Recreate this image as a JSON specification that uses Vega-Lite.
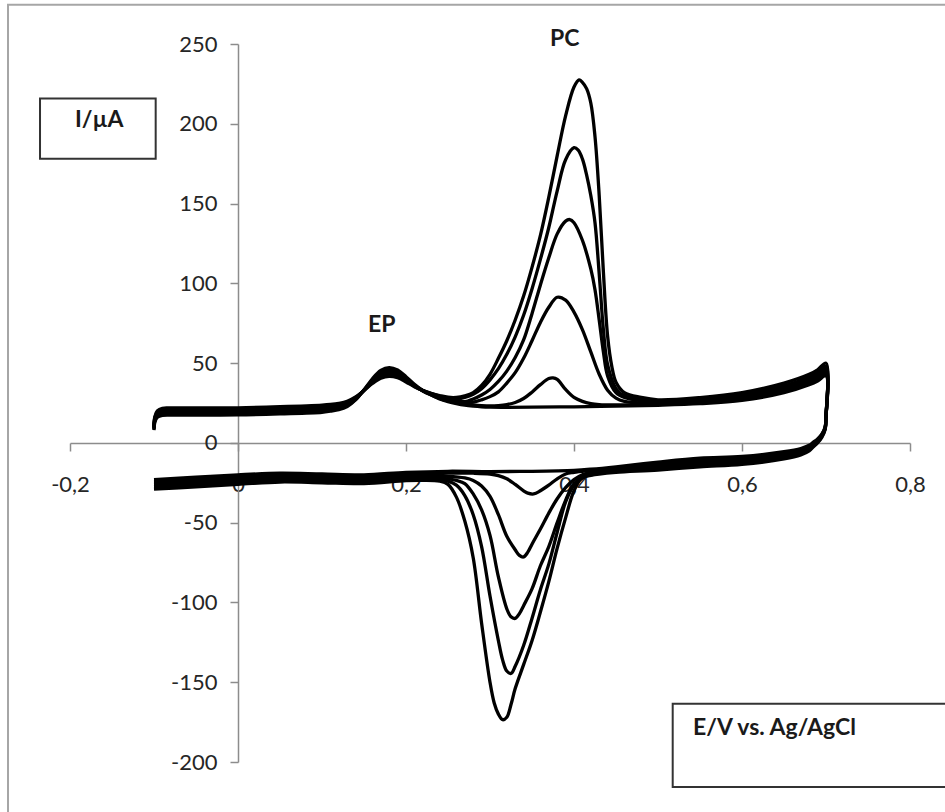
{
"$schema": "https://vega.github.io/schema/vega-lite/v6.json",
"width": 840, "height": 718,
"autosize": {"type": "none"},
"padding": {"left": 70, "top": 44, "right": 35, "bottom": 50},
"background": "white",
"config": {"view": {"stroke": null}},
"datasets": {
"frame": [{"x": -0.2738, "x2": 0.9, "y": 274.6, "y2": -260}],
"boxes": [{"x": -0.2357, "x2": -0.098, "y": 215.9, "y2": 178.1}, {"x": 0.5175, "x2": 0.86, "y": -163.5, "y2": -215.7}],
"txt": [{"x": 0.389, "y": 253.3, "t": "PC"}, {"x": 0.1711, "y": 73.6, "t": "EP"}, {"x": -0.1652, "y": 202.1, "t": "I/µA"}],
"axlab": [{"x": 0.5417, "y": -178.7, "t": "E/V vs. Ag/AgCl"}],
"cv": [
{"c":0,"x":-0.1,"y":8},{"c":0,"x":-0.099,"y":13},{"c":0,"x":-0.096,"y":16},{"c":0,"x":-0.09,"y":17.2},{"c":0,"x":-0.08,"y":17.4},{"c":0,"x":-0.04,"y":17.4},{"c":0,"x":0,"y":17.5},{"c":0,"x":0.05,"y":18.2},{"c":0,"x":0.1,"y":19.2},{"c":0,"x":0.11,"y":19.9},{"c":0,"x":0.12,"y":20.8},{"c":0,"x":0.13,"y":22.8},{"c":0,"x":0.14,"y":27},{"c":0,"x":0.15,"y":33.3},{"c":0,"x":0.16,"y":40.2},{"c":0,"x":0.17,"y":45.4},{"c":0,"x":0.18,"y":47.2},{"c":0,"x":0.19,"y":45.7},{"c":0,"x":0.2,"y":41.5},{"c":0,"x":0.21,"y":36.7},{"c":0,"x":0.22,"y":32.8},{"c":0,"x":0.23,"y":30},{"c":0,"x":0.24,"y":27.6},{"c":0,"x":0.25,"y":25.9},{"c":0,"x":0.26,"y":24.6},{"c":0,"x":0.27,"y":23.6},{"c":0,"x":0.28,"y":23},{"c":0,"x":0.29,"y":22.6},{"c":0,"x":0.3,"y":22.4},{"c":0,"x":0.32,"y":22.3},{"c":0,"x":0.35,"y":22.4},{"c":0,"x":0.4,"y":22.6},{"c":0,"x":0.45,"y":23},{"c":0,"x":0.5,"y":23.6},{"c":0,"x":0.55,"y":24.6},{"c":0,"x":0.6,"y":26.6},{"c":0,"x":0.65,"y":31.5},{"c":0,"x":0.68,"y":36.5},{"c":0,"x":0.69,"y":38.8},{"c":0,"x":0.7,"y":42},
{"c":0,"x":0.6998,"y":15},{"c":0,"x":0.699,"y":10},{"c":0,"x":0.695,"y":5.5},{"c":0,"x":0.69,"y":2.5},{"c":0,"x":0.685,"y":0.5},{"c":0,"x":0.68,"y":-1.5},{"c":0,"x":0.67,"y":-3.5},{"c":0,"x":0.65,"y":-5.5},{"c":0,"x":0.6,"y":-8.5},{"c":0,"x":0.55,"y":-9.5},{"c":0,"x":0.5,"y":-12},{"c":0,"x":0.45,"y":-15},{"c":0,"x":0.42,"y":-16.5},{"c":0,"x":0.4,"y":-17.2},{"c":0,"x":0.35,"y":-17.8},{"c":0,"x":0.3,"y":-18},{"c":0,"x":0.25,"y":-17.8},{"c":0,"x":0.2,"y":-18.5},{"c":0,"x":0.15,"y":-20},{"c":0,"x":0.1,"y":-19.5},{"c":0,"x":0.05,"y":-19},{"c":0,"x":0,"y":-20},{"c":0,"x":-0.05,"y":-21.5},{"c":0,"x":-0.1,"y":-23},

{"c":1,"x":-0.1,"y":8.5},{"c":1,"x":-0.099,"y":13.7},{"c":1,"x":-0.096,"y":16.8},{"c":1,"x":-0.09,"y":18.1},{"c":1,"x":-0.08,"y":18.3},{"c":1,"x":-0.04,"y":18.3},{"c":1,"x":0,"y":18.4},{"c":1,"x":0.05,"y":19.1},{"c":1,"x":0.1,"y":20.1},{"c":1,"x":0.11,"y":20.7},{"c":1,"x":0.12,"y":21.6},{"c":1,"x":0.13,"y":23.4},{"c":1,"x":0.14,"y":27.2},{"c":1,"x":0.15,"y":33},{"c":1,"x":0.16,"y":39.2},{"c":1,"x":0.17,"y":43.9},{"c":1,"x":0.18,"y":45.6},{"c":1,"x":0.19,"y":44.2},{"c":1,"x":0.2,"y":40.4},{"c":1,"x":0.21,"y":36.1},{"c":1,"x":0.22,"y":32.5},{"c":1,"x":0.23,"y":30},{"c":1,"x":0.24,"y":27.9},{"c":1,"x":0.25,"y":26.3},{"c":1,"x":0.26,"y":25.2},{"c":1,"x":0.27,"y":24.3},{"c":1,"x":0.28,"y":23.8},{"c":1,"x":0.29,"y":23.4},{"c":1,"x":0.3,"y":23.2},{"c":1,"x":0.31,"y":23.4},{"c":1,"x":0.32,"y":24},{"c":1,"x":0.33,"y":25.3},{"c":1,"x":0.34,"y":27.8},{"c":1,"x":0.35,"y":31.8},{"c":1,"x":0.36,"y":36.5},{"c":1,"x":0.37,"y":40.3},{"c":1,"x":0.375,"y":40.7},{"c":1,"x":0.38,"y":39.8},{"c":1,"x":0.39,"y":33.5},{"c":1,"x":0.4,"y":28.5},{"c":1,"x":0.41,"y":26},{"c":1,"x":0.42,"y":24.6},{"c":1,"x":0.43,"y":24},{"c":1,"x":0.45,"y":23.8},{"c":1,"x":0.5,"y":24.2},{"c":1,"x":0.55,"y":25.4},{"c":1,"x":0.6,"y":27.4},{"c":1,"x":0.65,"y":32.6},{"c":1,"x":0.68,"y":37.8},{"c":1,"x":0.69,"y":40},{"c":1,"x":0.7,"y":43.5},
{"c":1,"x":0.6998,"y":15},{"c":1,"x":0.699,"y":9.7},{"c":1,"x":0.695,"y":5.1},{"c":1,"x":0.69,"y":2},{"c":1,"x":0.685,"y":-0.1},{"c":1,"x":0.68,"y":-2.2},{"c":1,"x":0.67,"y":-4.3},{"c":1,"x":0.65,"y":-6.4},{"c":1,"x":0.6,"y":-9.5},{"c":1,"x":0.55,"y":-10.6},{"c":1,"x":0.5,"y":-13},{"c":1,"x":0.45,"y":-15.7},{"c":1,"x":0.42,"y":-17.3},{"c":1,"x":0.4,"y":-18.5},{"c":1,"x":0.39,"y":-19.5},{"c":1,"x":0.38,"y":-22.5},{"c":1,"x":0.37,"y":-26.5},{"c":1,"x":0.36,"y":-30},{"c":1,"x":0.352,"y":-32},{"c":1,"x":0.345,"y":-31.5},{"c":1,"x":0.34,"y":-30},{"c":1,"x":0.33,"y":-26},{"c":1,"x":0.32,"y":-22.5},{"c":1,"x":0.31,"y":-20.5},{"c":1,"x":0.3,"y":-19.5},{"c":1,"x":0.28,"y":-19},{"c":1,"x":0.25,"y":-19},{"c":1,"x":0.2,"y":-19.5},{"c":1,"x":0.15,"y":-21.3},{"c":1,"x":0.1,"y":-20.8},{"c":1,"x":0.05,"y":-20.3},{"c":1,"x":0,"y":-21.3},{"c":1,"x":-0.05,"y":-22.8},{"c":1,"x":-0.1,"y":-24.2},

{"c":2,"x":-0.1,"y":9},{"c":2,"x":-0.099,"y":14.4},{"c":2,"x":-0.096,"y":17.6},{"c":2,"x":-0.09,"y":19},{"c":2,"x":-0.08,"y":19.2},{"c":2,"x":-0.04,"y":19.2},{"c":2,"x":0,"y":19.3},{"c":2,"x":0.05,"y":20},{"c":2,"x":0.1,"y":21},{"c":2,"x":0.11,"y":21.6},{"c":2,"x":0.12,"y":22.4},{"c":2,"x":0.13,"y":24.2},{"c":2,"x":0.14,"y":27.7},{"c":2,"x":0.15,"y":33.1},{"c":2,"x":0.16,"y":39},{"c":2,"x":0.17,"y":43.4},{"c":2,"x":0.18,"y":45},{"c":2,"x":0.19,"y":43.7},{"c":2,"x":0.2,"y":40.1},{"c":2,"x":0.21,"y":36.1},{"c":2,"x":0.22,"y":32.8},{"c":2,"x":0.23,"y":30.4},{"c":2,"x":0.24,"y":28.5},{"c":2,"x":0.25,"y":26.9},{"c":2,"x":0.26,"y":25.9},{"c":2,"x":0.27,"y":25.1},{"c":2,"x":0.28,"y":25.5},{"c":2,"x":0.29,"y":27},{"c":2,"x":0.3,"y":29},{"c":2,"x":0.31,"y":32},{"c":2,"x":0.32,"y":37.5},{"c":2,"x":0.33,"y":44},{"c":2,"x":0.34,"y":53},{"c":2,"x":0.35,"y":64},{"c":2,"x":0.36,"y":75.5},{"c":2,"x":0.37,"y":85},{"c":2,"x":0.38,"y":91.3},{"c":2,"x":0.39,"y":89.5},{"c":2,"x":0.4,"y":82},{"c":2,"x":0.41,"y":71},{"c":2,"x":0.42,"y":57},{"c":2,"x":0.43,"y":43},{"c":2,"x":0.44,"y":33},{"c":2,"x":0.45,"y":28},{"c":2,"x":0.46,"y":26},{"c":2,"x":0.48,"y":25},{"c":2,"x":0.5,"y":25.2},{"c":2,"x":0.55,"y":26.2},{"c":2,"x":0.6,"y":28.4},{"c":2,"x":0.65,"y":33.6},{"c":2,"x":0.68,"y":39},{"c":2,"x":0.69,"y":41.3},{"c":2,"x":0.7,"y":45},
{"c":2,"x":0.6998,"y":15},{"c":2,"x":0.699,"y":9.4},{"c":2,"x":0.695,"y":4.7},{"c":2,"x":0.69,"y":1.5},{"c":2,"x":0.685,"y":-0.7},{"c":2,"x":0.68,"y":-2.9},{"c":2,"x":0.67,"y":-5.1},{"c":2,"x":0.65,"y":-7.3},{"c":2,"x":0.6,"y":-10.5},{"c":2,"x":0.55,"y":-11.7},{"c":2,"x":0.5,"y":-14},{"c":2,"x":0.45,"y":-16.4},{"c":2,"x":0.42,"y":-18.5},{"c":2,"x":0.41,"y":-20},{"c":2,"x":0.4,"y":-23},{"c":2,"x":0.39,"y":-28},{"c":2,"x":0.38,"y":-35},{"c":2,"x":0.37,"y":-44},{"c":2,"x":0.36,"y":-54},{"c":2,"x":0.35,"y":-63.5},{"c":2,"x":0.345,"y":-68.5},{"c":2,"x":0.34,"y":-71.5},{"c":2,"x":0.335,"y":-70.5},{"c":2,"x":0.33,"y":-67},{"c":2,"x":0.32,"y":-58.5},{"c":2,"x":0.31,"y":-45},{"c":2,"x":0.3,"y":-33.5},{"c":2,"x":0.29,"y":-27},{"c":2,"x":0.28,"y":-23.5},{"c":2,"x":0.27,"y":-22},{"c":2,"x":0.25,"y":-21},{"c":2,"x":0.2,"y":-20.7},{"c":2,"x":0.15,"y":-22.5},{"c":2,"x":0.1,"y":-22},{"c":2,"x":0.05,"y":-21.5},{"c":2,"x":0,"y":-22.5},{"c":2,"x":-0.05,"y":-24},{"c":2,"x":-0.1,"y":-25.3},

{"c":3,"x":-0.1,"y":9.5},{"c":3,"x":-0.099,"y":15.1},{"c":3,"x":-0.096,"y":18.4},{"c":3,"x":-0.09,"y":19.9},{"c":3,"x":-0.08,"y":20.1},{"c":3,"x":-0.04,"y":20.1},{"c":3,"x":0,"y":20.2},{"c":3,"x":0.05,"y":20.9},{"c":3,"x":0.1,"y":21.9},{"c":3,"x":0.11,"y":22.4},{"c":3,"x":0.12,"y":23.2},{"c":3,"x":0.13,"y":24.8},{"c":3,"x":0.14,"y":28.1},{"c":3,"x":0.15,"y":33},{"c":3,"x":0.16,"y":38.4},{"c":3,"x":0.17,"y":42.4},{"c":3,"x":0.18,"y":43.9},{"c":3,"x":0.19,"y":42.7},{"c":3,"x":0.2,"y":39.5},{"c":3,"x":0.21,"y":35.8},{"c":3,"x":0.22,"y":32.8},{"c":3,"x":0.23,"y":30.6},{"c":3,"x":0.24,"y":28.9},{"c":3,"x":0.25,"y":27.5},{"c":3,"x":0.26,"y":26.5},{"c":3,"x":0.27,"y":25.8},{"c":3,"x":0.28,"y":27.5},{"c":3,"x":0.29,"y":30},{"c":3,"x":0.3,"y":33.5},{"c":3,"x":0.31,"y":38.5},{"c":3,"x":0.32,"y":45},{"c":3,"x":0.33,"y":53.5},{"c":3,"x":0.34,"y":64.5},{"c":3,"x":0.35,"y":81},{"c":3,"x":0.36,"y":99},{"c":3,"x":0.37,"y":116},{"c":3,"x":0.38,"y":131},{"c":3,"x":0.39,"y":139},{"c":3,"x":0.395,"y":140},{"c":3,"x":0.4,"y":138},{"c":3,"x":0.41,"y":127},{"c":3,"x":0.42,"y":109},{"c":3,"x":0.425,"y":96},{"c":3,"x":0.43,"y":77},{"c":3,"x":0.435,"y":57},{"c":3,"x":0.44,"y":42},{"c":3,"x":0.45,"y":31.5},{"c":3,"x":0.46,"y":28.5},{"c":3,"x":0.48,"y":26.5},{"c":3,"x":0.5,"y":25.8},{"c":3,"x":0.55,"y":27},{"c":3,"x":0.6,"y":29.4},{"c":3,"x":0.65,"y":34.6},{"c":3,"x":0.68,"y":40},{"c":3,"x":0.69,"y":42.5},{"c":3,"x":0.7,"y":46.5},
{"c":3,"x":0.6998,"y":15},{"c":3,"x":0.699,"y":9.1},{"c":3,"x":0.695,"y":4.3},{"c":3,"x":0.69,"y":1},{"c":3,"x":0.685,"y":-1.3},{"c":3,"x":0.68,"y":-3.6},{"c":3,"x":0.67,"y":-5.9},{"c":3,"x":0.65,"y":-8.2},{"c":3,"x":0.6,"y":-11.5},{"c":3,"x":0.55,"y":-12.8},{"c":3,"x":0.5,"y":-15},{"c":3,"x":0.45,"y":-17.1},{"c":3,"x":0.43,"y":-18.5},{"c":3,"x":0.42,"y":-19.5},{"c":3,"x":0.41,"y":-21.5},{"c":3,"x":0.4,"y":-25.5},{"c":3,"x":0.39,"y":-36},{"c":3,"x":0.38,"y":-50},{"c":3,"x":0.37,"y":-65},{"c":3,"x":0.36,"y":-77},{"c":3,"x":0.35,"y":-91.5},{"c":3,"x":0.34,"y":-102},{"c":3,"x":0.335,"y":-107},{"c":3,"x":0.33,"y":-110},{"c":3,"x":0.325,"y":-109},{"c":3,"x":0.32,"y":-104},{"c":3,"x":0.31,"y":-84},{"c":3,"x":0.3,"y":-58},{"c":3,"x":0.29,"y":-42},{"c":3,"x":0.28,"y":-32},{"c":3,"x":0.27,"y":-25.5},{"c":3,"x":0.26,"y":-23.5},{"c":3,"x":0.25,"y":-22.5},{"c":3,"x":0.2,"y":-21.8},{"c":3,"x":0.15,"y":-23.5},{"c":3,"x":0.1,"y":-23},{"c":3,"x":0.05,"y":-22.5},{"c":3,"x":0,"y":-23.5},{"c":3,"x":-0.05,"y":-25},{"c":3,"x":-0.1,"y":-26.3},

{"c":4,"x":-0.1,"y":10},{"c":4,"x":-0.099,"y":15.8},{"c":4,"x":-0.096,"y":19.2},{"c":4,"x":-0.09,"y":20.8},{"c":4,"x":-0.08,"y":21},{"c":4,"x":-0.04,"y":21},{"c":4,"x":0,"y":21.1},{"c":4,"x":0.05,"y":21.8},{"c":4,"x":0.1,"y":22.8},{"c":4,"x":0.11,"y":23.3},{"c":4,"x":0.12,"y":24},{"c":4,"x":0.13,"y":25.5},{"c":4,"x":0.14,"y":28.4},{"c":4,"x":0.15,"y":32.9},{"c":4,"x":0.16,"y":37.8},{"c":4,"x":0.17,"y":41.5},{"c":4,"x":0.18,"y":42.8},{"c":4,"x":0.19,"y":41.8},{"c":4,"x":0.2,"y":38.8},{"c":4,"x":0.21,"y":35.5},{"c":4,"x":0.22,"y":32.8},{"c":4,"x":0.23,"y":30.9},{"c":4,"x":0.24,"y":29.3},{"c":4,"x":0.25,"y":28},{"c":4,"x":0.26,"y":27.5},{"c":4,"x":0.27,"y":28.5},{"c":4,"x":0.28,"y":30.5},{"c":4,"x":0.29,"y":34},{"c":4,"x":0.3,"y":39.5},{"c":4,"x":0.31,"y":46.5},{"c":4,"x":0.32,"y":55.5},{"c":4,"x":0.33,"y":66.5},{"c":4,"x":0.34,"y":80},{"c":4,"x":0.35,"y":96.5},{"c":4,"x":0.36,"y":115},{"c":4,"x":0.37,"y":135},{"c":4,"x":0.38,"y":158},{"c":4,"x":0.39,"y":177.5},{"c":4,"x":0.4,"y":185},{"c":4,"x":0.405,"y":183.5},{"c":4,"x":0.41,"y":178},{"c":4,"x":0.415,"y":168},{"c":4,"x":0.42,"y":155},{"c":4,"x":0.425,"y":138},{"c":4,"x":0.43,"y":106},{"c":4,"x":0.435,"y":71},{"c":4,"x":0.44,"y":49},{"c":4,"x":0.45,"y":34},{"c":4,"x":0.46,"y":29.5},{"c":4,"x":0.48,"y":27.5},{"c":4,"x":0.5,"y":26.3},{"c":4,"x":0.55,"y":27.6},{"c":4,"x":0.6,"y":30.4},{"c":4,"x":0.65,"y":35.8},{"c":4,"x":0.68,"y":41.3},{"c":4,"x":0.69,"y":44},{"c":4,"x":0.7,"y":48},
{"c":4,"x":0.6998,"y":15},{"c":4,"x":0.699,"y":8.8},{"c":4,"x":0.695,"y":3.9},{"c":4,"x":0.69,"y":0.5},{"c":4,"x":0.685,"y":-1.9},{"c":4,"x":0.68,"y":-4.3},{"c":4,"x":0.67,"y":-6.7},{"c":4,"x":0.65,"y":-9.1},{"c":4,"x":0.6,"y":-12.5},{"c":4,"x":0.55,"y":-13.9},{"c":4,"x":0.5,"y":-16},{"c":4,"x":0.45,"y":-17.8},{"c":4,"x":0.43,"y":-19},{"c":4,"x":0.42,"y":-20},{"c":4,"x":0.41,"y":-22},{"c":4,"x":0.4,"y":-26.5},{"c":4,"x":0.39,"y":-37},{"c":4,"x":0.38,"y":-56},{"c":4,"x":0.37,"y":-76},{"c":4,"x":0.36,"y":-92},{"c":4,"x":0.35,"y":-110},{"c":4,"x":0.34,"y":-127},{"c":4,"x":0.33,"y":-140},{"c":4,"x":0.325,"y":-144.5},{"c":4,"x":0.32,"y":-143},{"c":4,"x":0.315,"y":-136},{"c":4,"x":0.31,"y":-124},{"c":4,"x":0.3,"y":-96},{"c":4,"x":0.29,"y":-65},{"c":4,"x":0.28,"y":-45},{"c":4,"x":0.27,"y":-33},{"c":4,"x":0.26,"y":-26.5},{"c":4,"x":0.25,"y":-24},{"c":4,"x":0.24,"y":-23.2},{"c":4,"x":0.2,"y":-22.7},{"c":4,"x":0.15,"y":-24.5},{"c":4,"x":0.1,"y":-24},{"c":4,"x":0.05,"y":-23.5},{"c":4,"x":0,"y":-24.8},{"c":4,"x":-0.05,"y":-26.3},{"c":4,"x":-0.1,"y":-27.6},

{"c":5,"x":-0.1,"y":10.5},{"c":5,"x":-0.099,"y":16.5},{"c":5,"x":-0.096,"y":20},{"c":5,"x":-0.09,"y":21.7},{"c":5,"x":-0.08,"y":21.9},{"c":5,"x":-0.04,"y":21.9},{"c":5,"x":0,"y":22},{"c":5,"x":0.05,"y":22.7},{"c":5,"x":0.1,"y":23.7},{"c":5,"x":0.11,"y":24.1},{"c":5,"x":0.12,"y":24.8},{"c":5,"x":0.13,"y":26.1},{"c":5,"x":0.14,"y":28.8},{"c":5,"x":0.15,"y":32.8},{"c":5,"x":0.16,"y":37.2},{"c":5,"x":0.17,"y":40.5},{"c":5,"x":0.18,"y":41.7},{"c":5,"x":0.19,"y":40.8},{"c":5,"x":0.2,"y":38.2},{"c":5,"x":0.21,"y":35.2},{"c":5,"x":0.22,"y":32.8},{"c":5,"x":0.23,"y":31.1},{"c":5,"x":0.24,"y":29.7},{"c":5,"x":0.25,"y":28.6},{"c":5,"x":0.26,"y":28.5},{"c":5,"x":0.27,"y":29.5},{"c":5,"x":0.28,"y":31.5},{"c":5,"x":0.29,"y":36},{"c":5,"x":0.3,"y":43},{"c":5,"x":0.31,"y":53},{"c":5,"x":0.32,"y":64},{"c":5,"x":0.33,"y":77},{"c":5,"x":0.34,"y":92},{"c":5,"x":0.35,"y":110},{"c":5,"x":0.36,"y":130},{"c":5,"x":0.37,"y":154},{"c":5,"x":0.38,"y":180},{"c":5,"x":0.39,"y":205},{"c":5,"x":0.4,"y":223},{"c":5,"x":0.406,"y":227.5},{"c":5,"x":0.41,"y":226},{"c":5,"x":0.415,"y":222},{"c":5,"x":0.42,"y":213},{"c":5,"x":0.425,"y":192},{"c":5,"x":0.43,"y":155},{"c":5,"x":0.435,"y":107},{"c":5,"x":0.44,"y":67},{"c":5,"x":0.445,"y":48},{"c":5,"x":0.45,"y":38},{"c":5,"x":0.46,"y":31.5},{"c":5,"x":0.48,"y":28.5},{"c":5,"x":0.5,"y":27},{"c":5,"x":0.55,"y":28.4},{"c":5,"x":0.6,"y":31.5},{"c":5,"x":0.65,"y":37.5},{"c":5,"x":0.68,"y":43},{"c":5,"x":0.69,"y":45.8},{"c":5,"x":0.7,"y":50},
{"c":5,"x":0.6998,"y":15},{"c":5,"x":0.699,"y":8.5},{"c":5,"x":0.695,"y":3.5},{"c":5,"x":0.69,"y":0},{"c":5,"x":0.685,"y":-2.5},{"c":5,"x":0.68,"y":-5},{"c":5,"x":0.67,"y":-7.5},{"c":5,"x":0.65,"y":-10},{"c":5,"x":0.6,"y":-13.5},{"c":5,"x":0.55,"y":-15},{"c":5,"x":0.5,"y":-17},{"c":5,"x":0.45,"y":-18.5},{"c":5,"x":0.43,"y":-19.5},{"c":5,"x":0.42,"y":-20.3},{"c":5,"x":0.41,"y":-21.5},{"c":5,"x":0.4,"y":-30},{"c":5,"x":0.39,"y":-47},{"c":5,"x":0.38,"y":-66},{"c":5,"x":0.37,"y":-87},{"c":5,"x":0.36,"y":-106},{"c":5,"x":0.35,"y":-124},{"c":5,"x":0.34,"y":-139},{"c":5,"x":0.33,"y":-154},{"c":5,"x":0.325,"y":-164},{"c":5,"x":0.32,"y":-172},{"c":5,"x":0.315,"y":-173.5},{"c":5,"x":0.31,"y":-170},{"c":5,"x":0.305,"y":-163},{"c":5,"x":0.3,"y":-150},{"c":5,"x":0.29,"y":-113},{"c":5,"x":0.28,"y":-72},{"c":5,"x":0.27,"y":-49},{"c":5,"x":0.26,"y":-34},{"c":5,"x":0.25,"y":-26},{"c":5,"x":0.24,"y":-24},{"c":5,"x":0.22,"y":-23.5},{"c":5,"x":0.2,"y":-23.7},{"c":5,"x":0.15,"y":-25.5},{"c":5,"x":0.1,"y":-25},{"c":5,"x":0.05,"y":-24.5},{"c":5,"x":0,"y":-26},{"c":5,"x":-0.05,"y":-27.5},{"c":5,"x":-0.1,"y":-29}
]
},
"encoding": {
"x": {"field": "x", "type": "quantitative", "scale": {"domain": [-0.2, 0.8], "nice": false, "zero": false},
 "axis": {"values": [-0.2, 0, 0.2, 0.4, 0.6, 0.8], "title": null, "offset": -319, "grid": false, "domainColor": "#8c8c8c", "domainWidth": 1.5, "tickColor": "#8c8c8c", "tickWidth": 1.5, "tickSize": 8, "labelFont": "Lato", "labelFontSize": 22, "labelColor": "#262626", "labelPadding": 23, "labelFlush": false, "labelOverlap": false, "labelExpr": "datum.value == 0 ? '0' : (datum.value < 0 ? '-' : '') + replace(format(abs(datum.value), '.1f'), '.', ',')"}},
"y": {"field": "y", "type": "quantitative", "scale": {"domain": [-200, 250], "nice": false, "zero": false},
 "axis": {"values": [-200, -150, -100, -50, 0, 50, 100, 150, 200, 250], "title": null, "offset": -168, "grid": false, "domainColor": "#8c8c8c", "domainWidth": 1.5, "tickColor": "#8c8c8c", "tickWidth": 1.5, "tickSize": 8, "labelFont": "Lato", "labelFontSize": 22, "labelColor": "#262626", "labelPadding": 13, "labelOverlap": false, "labelExpr": "(datum.value < 0 ? '-' : '') + abs(datum.value)"}}
},
"layer": [
{"data": {"name": "frame"}, "mark": {"type": "rect", "fill": null, "fillOpacity": 0, "stroke": "#a6a6a6", "strokeWidth": 2}, "encoding": {"x2": {"field": "x2"}, "y2": {"field": "y2"}}},
{"data": {"name": "boxes"}, "mark": {"type": "rect", "fill": "white", "stroke": "#333333", "strokeWidth": 2}, "encoding": {"x2": {"field": "x2"}, "y2": {"field": "y2"}}},
{"data": {"name": "cv"}, "mark": {"type": "line", "interpolate": "catmull-rom", "color": "black", "strokeWidth": 3.3}, "encoding": {"detail": {"field": "c", "type": "nominal"}, "order": {"value": null}}},
{"data": {"name": "txt"}, "mark": {"type": "text", "font": "Lato", "fontWeight": "bold", "fontSize": 23, "align": "center", "baseline": "middle", "color": "#1a1a1a"}, "encoding": {"text": {"field": "t"}}},
{"data": {"name": "axlab"}, "mark": {"type": "text", "font": "Lato", "fontWeight": "bold", "fontSize": 23, "align": "left", "baseline": "middle", "color": "#1a1a1a"}, "encoding": {"text": {"field": "t"}}}
]
}
